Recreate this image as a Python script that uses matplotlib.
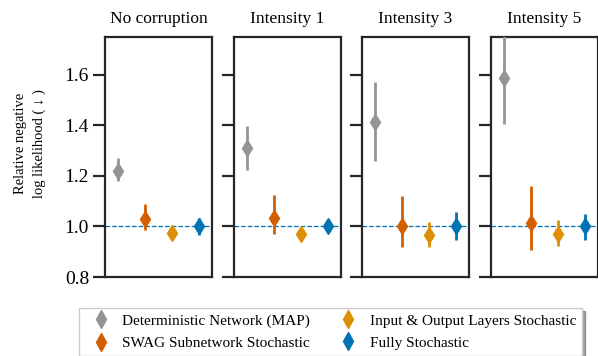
import matplotlib
matplotlib.use("Agg")
import matplotlib.pyplot as plt
from matplotlib.lines import Line2D

plt.rcParams['font.family'] = ['Liberation Serif', 'DejaVu Serif']

panels = ["No corruption", "Intensity 1", "Intensity 3", "Intensity 5"]
methods = ["Deterministic Network (MAP)", "SWAG Subnetwork Stochastic",
           "Input & Output Layers Stochastic", "Fully Stochastic"]
colors = ["#949494", "#d55e00", "#de8f05", "#0173b2"]

# mean, lower, upper per panel per method
means = [
    [1.219, 1.028, 0.973, 1.000],
    [1.312, 1.035, 0.970, 1.000],
    [1.414, 1.002, 0.968, 1.000],
    [1.587, 1.013, 0.971, 1.000],
]
lows = [
    [1.180, 0.987, 0.958, 0.967],
    [1.224, 0.970, 0.955, 0.978],
    [1.260, 0.920, 0.918, 0.947],
    [1.404, 0.908, 0.924, 0.948],
]
highs = [
    [1.272, 1.090, 1.000, 1.035],
    [1.398, 1.124, 0.990, 1.025],
    [1.570, 1.120, 1.017, 1.057],
    [1.780, 1.160, 1.024, 1.050],
]

fig = plt.figure(figsize=(5.98, 3.56), dpi=100)
lefts = [105, 234, 362, 491]
W, H = 598, 356
axes = []
for k, name in enumerate(panels):
    ax = fig.add_axes([lefts[k] / W, 1 - 277 / H, 107 / W, (277 - 37) / H])
    axes.append(ax)
    ax.axhline(1.0, color="#0173b2", lw=0.9, ls="--", zorder=1)
    for i in range(4):
        m = means[k][i]
        ax.errorbar([i], [m], yerr=[[m - lows[k][i]], [highs[k][i] - m]],
                    fmt="d", color=colors[i], ms=8, elinewidth=2,
                    capsize=0, zorder=3)
    ax.set_xlim(-0.5, 3.5)
    ax.set_ylim(0.8, 1.75)
    ax.set_xticks([])
    ax.set_yticks([0.8, 1.0, 1.2, 1.4, 1.6])
    ax.tick_params(axis="y", length=8.5, width=1.6, color="#262626",
                   labelsize=14, pad=3)
    if k > 0:
        ax.set_yticklabels([])
    for s in ax.spines.values():
        s.set_linewidth(1.6)
        s.set_color("#262626")
    ax.set_title(name, fontsize=12.5, pad=10)

axes[0].set_ylabel("Relative negative\nlog likelihood ( \u2193 )",
                   fontsize=10.5, linespacing=1.45)
axes[0].yaxis.set_label_coords(-0.555, 0.555)

handles = [Line2D([], [], marker="d", color=c, ls="none", ms=9) for c in colors]
leg = fig.legend(handles, methods, ncol=2, loc="upper center",
                 bbox_to_anchor=(0.553, 0.135), fontsize=11, frameon=True,
                 shadow=True, fancybox=False, handletextpad=0.4,
                 columnspacing=1.5, borderpad=0.4, labelspacing=0.55,
                 borderaxespad=0)
leg.get_frame().set_edgecolor("#cccccc")

fig.savefig("out.png", dpi=100)
